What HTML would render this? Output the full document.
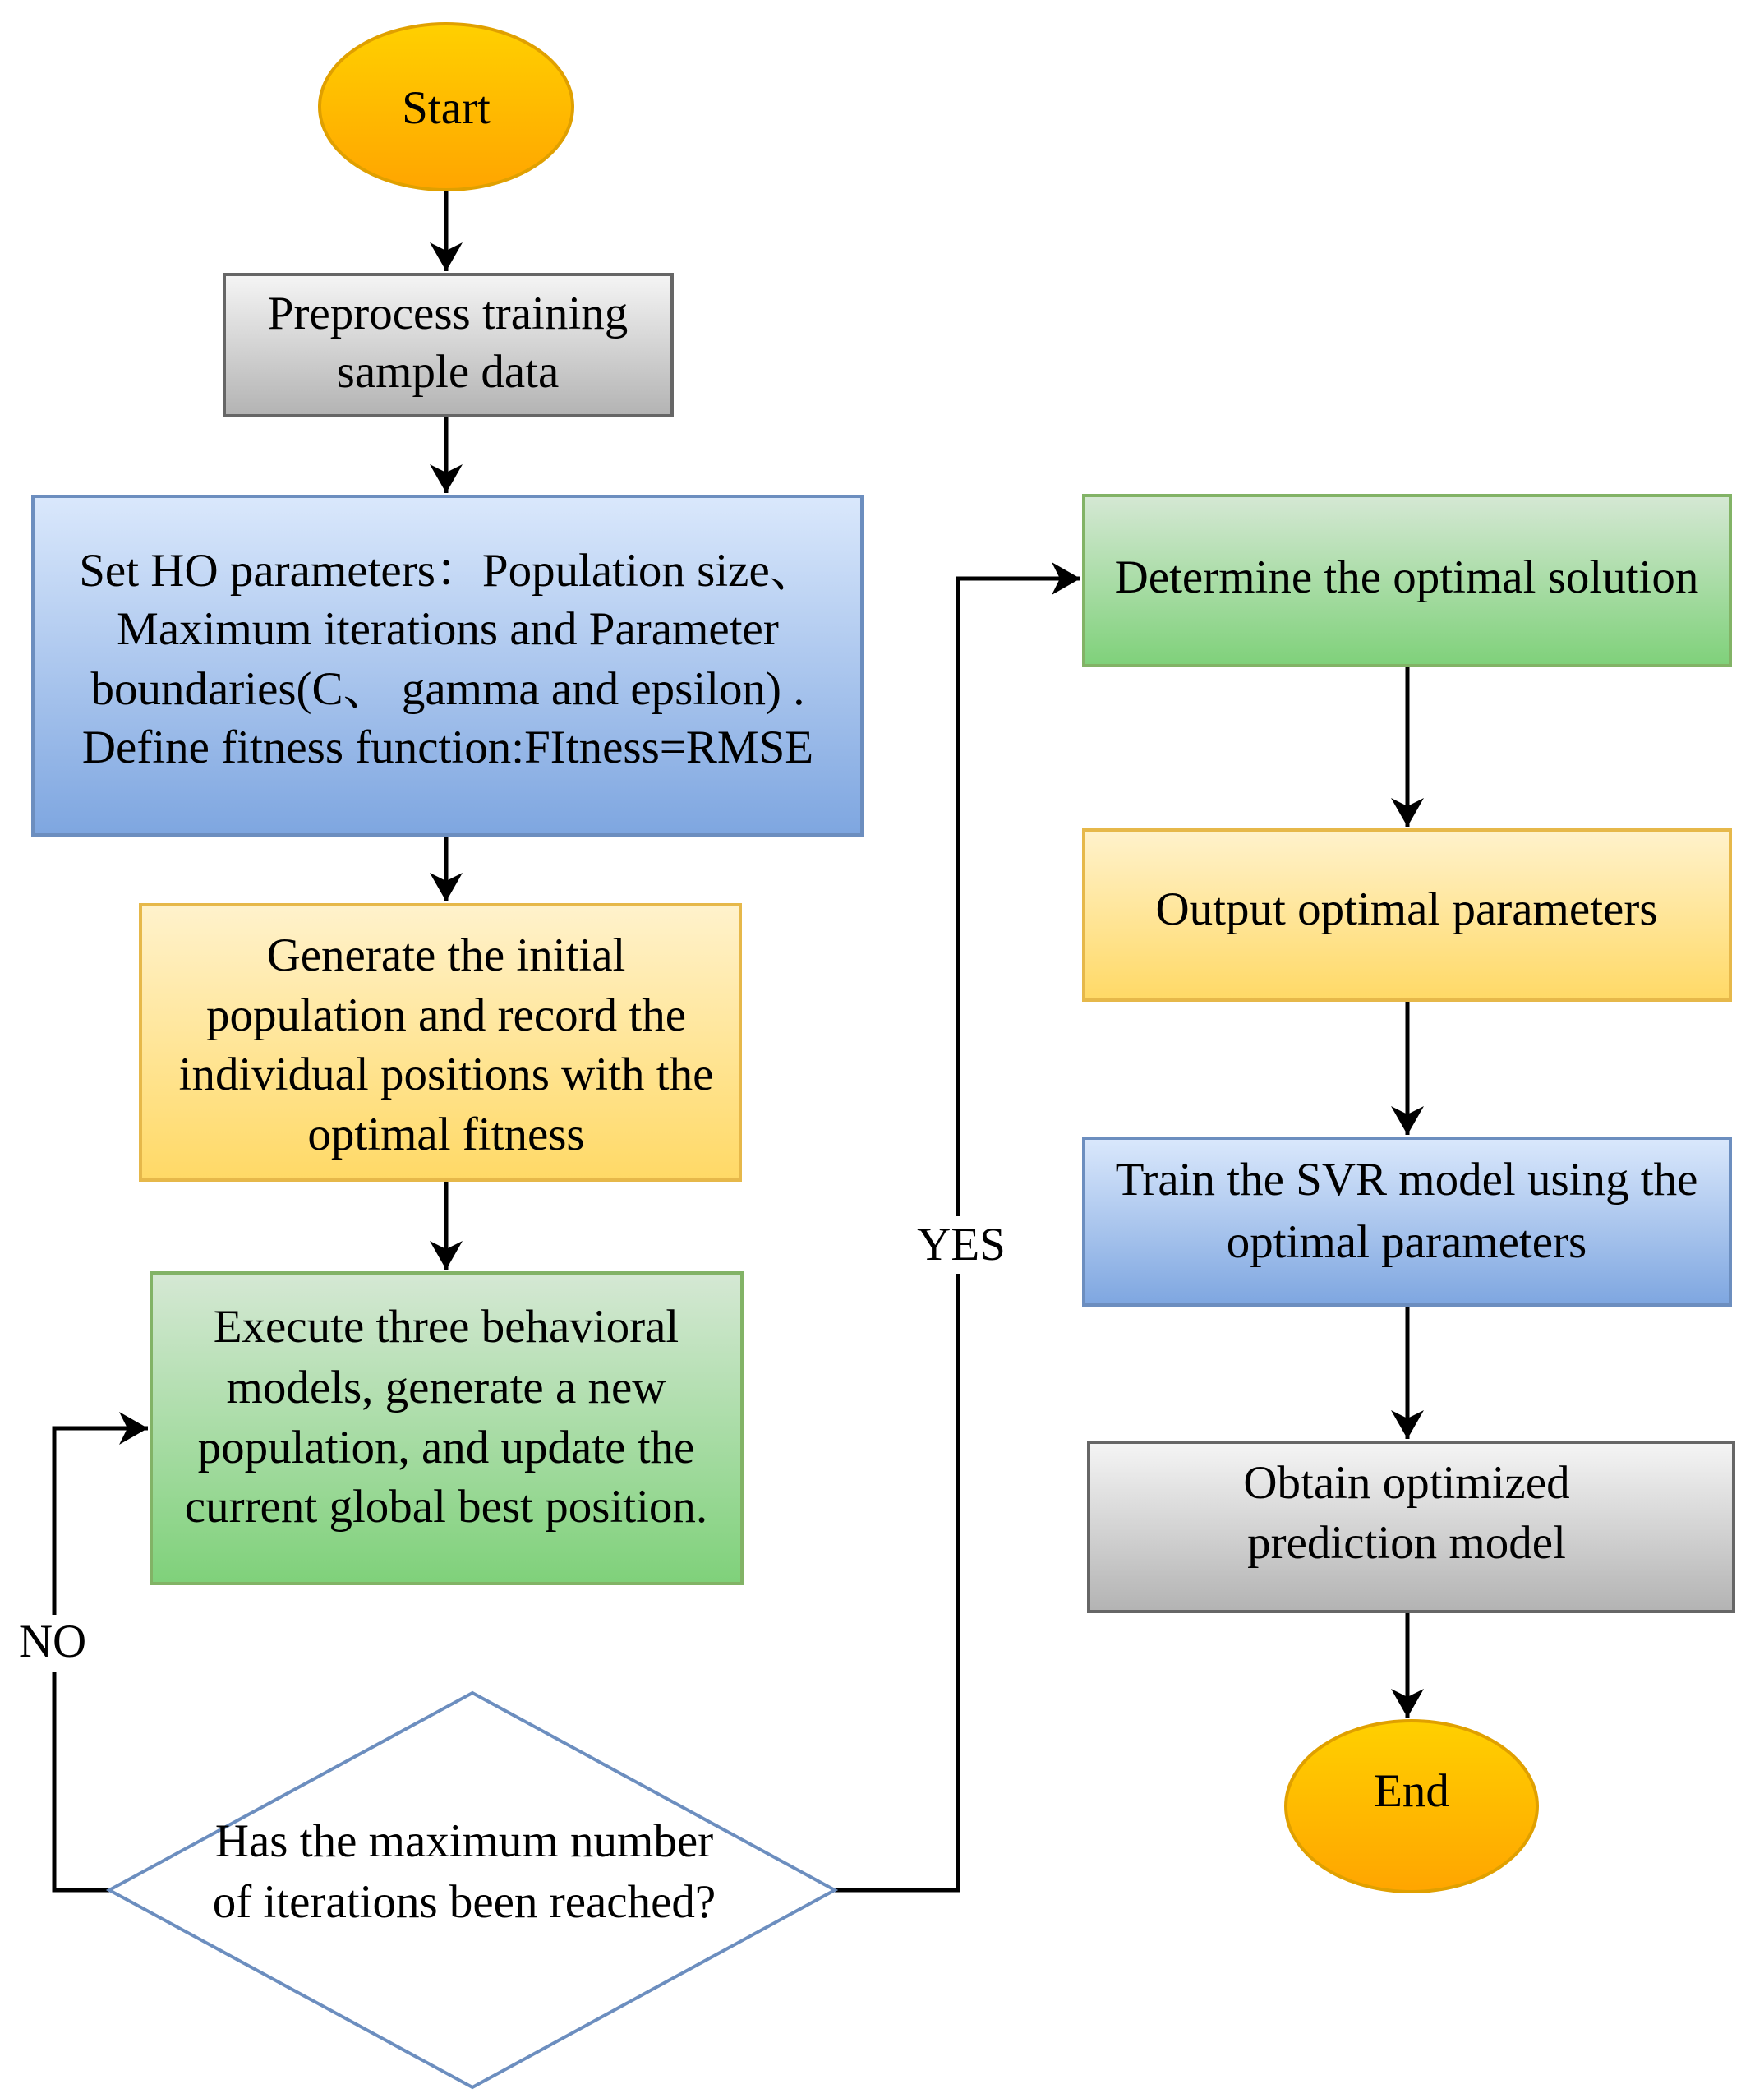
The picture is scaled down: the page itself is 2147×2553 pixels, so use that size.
<!DOCTYPE html>
<html><head><meta charset="utf-8"><style>html,body{margin:0;padding:0;background:#fff}svg{display:block}text{font-family:"Liberation Serif",serif;font-size:57px}.cjk{font-family:"Noto Serif CJK SC","Noto Sans CJK SC",serif}</style></head>
<body>
<svg width="2147" height="2553" viewBox="0 0 2147 2553" xmlns="http://www.w3.org/2000/svg" text-anchor="middle">
<defs>
<linearGradient id="yel" x1="0" y1="0" x2="0" y2="1"><stop offset="0" stop-color="#ffd000"/><stop offset="1" stop-color="#ffa500"/></linearGradient>
<linearGradient id="gry" x1="0" y1="0" x2="0" y2="1"><stop offset="0" stop-color="#f5f5f5"/><stop offset="1" stop-color="#b3b3b3"/></linearGradient>
<linearGradient id="blu" x1="0" y1="0" x2="0" y2="1"><stop offset="0" stop-color="#dae8fc"/><stop offset="1" stop-color="#7ea6e0"/></linearGradient>
<linearGradient id="org" x1="0" y1="0" x2="0" y2="1"><stop offset="0" stop-color="#fff2cc"/><stop offset="1" stop-color="#ffd966"/></linearGradient>
<linearGradient id="grn" x1="0" y1="0" x2="0" y2="1"><stop offset="0" stop-color="#d5e8d4"/><stop offset="1" stop-color="#7fd17a"/></linearGradient>
<marker id="ar" markerWidth="8" markerHeight="8" refX="7" refY="4" orient="auto" markerUnits="strokeWidth"><path d="M0,0 L7,4 L0,8 L2,4 Z" fill="#000"/></marker>
</defs>
<g stroke="#000" stroke-width="5" fill="none">
<line x1="543" y1="232" x2="543" y2="330" marker-end="url(#ar)"/>
<line x1="543" y1="506" x2="543" y2="600" marker-end="url(#ar)"/>
<line x1="543" y1="1016" x2="543" y2="1097" marker-end="url(#ar)"/>
<line x1="543" y1="1436" x2="543" y2="1545" marker-end="url(#ar)"/>
<polyline points="133,2300 66,2300 66,1738 180,1738" marker-end="url(#ar)"/>
<polyline points="1016,2300 1166,2300 1166,704 1315,704" marker-end="url(#ar)"/>
<line x1="1713" y1="810" x2="1713" y2="1006" marker-end="url(#ar)"/>
<line x1="1713" y1="1217" x2="1713" y2="1381" marker-end="url(#ar)"/>
<line x1="1713" y1="1588" x2="1713" y2="1751" marker-end="url(#ar)"/>
<line x1="1713" y1="1961" x2="1713" y2="2090" marker-end="url(#ar)"/>
</g>
<rect x="0" y="1965" width="130" height="70" fill="#fff"/>
<rect x="1100" y="1480" width="140" height="70" fill="#fff"/>
<ellipse cx="543" cy="130" rx="154" ry="101" fill="url(#yel)" stroke="#e0a000" stroke-width="4"/>
<rect x="273" y="334" width="545" height="172" fill="url(#gry)" stroke="#666" stroke-width="4"/>
<rect x="40" y="604" width="1009" height="412" fill="url(#blu)" stroke="#6c8ebf" stroke-width="4"/>
<rect x="171" y="1101" width="730" height="335" fill="url(#org)" stroke="#e6b84a" stroke-width="4"/>
<rect x="184" y="1549" width="719" height="378" fill="url(#grn)" stroke="#82b366" stroke-width="4"/>
<polygon points="575,2060 1016,2300 575,2540 133,2300" fill="#fff" stroke="#6c8ebf" stroke-width="4"/>
<rect x="1319" y="603" width="787" height="207" fill="url(#grn)" stroke="#82b366" stroke-width="4"/>
<rect x="1319" y="1010" width="787" height="207" fill="url(#org)" stroke="#e6b84a" stroke-width="4"/>
<rect x="1319" y="1385" width="787" height="203" fill="url(#blu)" stroke="#6c8ebf" stroke-width="4"/>
<rect x="1325" y="1755" width="785" height="206" fill="url(#gry)" stroke="#666" stroke-width="4"/>
<ellipse cx="1718" cy="2198" rx="153" ry="104" fill="url(#yel)" stroke="#e0a000" stroke-width="4"/>
<g fill="#000">
<text x="543" y="150">Start</text>
<text x="545" y="400">Preprocess training</text>
<text x="545" y="471">sample data</text>
<text x="545" y="713">Set HO parameters<tspan class="cjk">：</tspan>Population size<tspan class="cjk">、</tspan></text>
<text x="545" y="784">Maximum iterations  and Parameter</text>
<text x="545" y="857">boundaries(C<tspan class="cjk">、</tspan> gamma and epsilon) .</text>
<text x="545" y="928">Define fitness function:FItness=RMSE</text>
<text x="543" y="1181">Generate the initial</text>
<text x="543" y="1254">population and record the</text>
<text x="543" y="1326">individual positions with the</text>
<text x="543" y="1399">optimal fitness</text>
<text x="543" y="1633">Execute three behavioral</text>
<text x="543" y="1707">models, generate a new</text>
<text x="543" y="1780">population, and update the</text>
<text x="543" y="1852">current global best position.</text>
<text x="565" y="2259">Has the maximum number</text>
<text x="565" y="2333">of iterations been reached?</text>
<text x="1712" y="721">Determine the optimal solution</text>
<text x="1712" y="1125">Output optimal parameters</text>
<text x="1712" y="1454">Train the SVR model using the</text>
<text x="1712" y="1530">optimal parameters</text>
<text x="1712" y="1823">Obtain optimized</text>
<text x="1712" y="1896">prediction model</text>
<text x="1718" y="2198">End</text>
<text x="1170" y="1533">YES</text>
<text x="64" y="2016">NO</text>
</g>
</svg>
</body></html>
